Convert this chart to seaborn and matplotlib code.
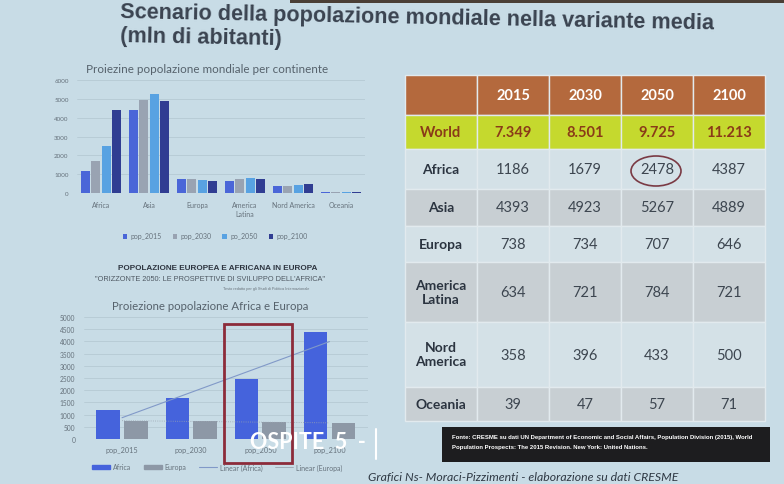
import numpy as np
import pandas as pd
import matplotlib
matplotlib.use("Agg")
import matplotlib.pyplot as plt
from matplotlib.patches import Rectangle, Ellipse, Patch
from matplotlib.lines import Line2D
import seaborn as sns

W, H = 784, 485

# dati (mln di abitanti)
anni = ["2015", "2030", "2050", "2100"]
world = ["7.349", "8.501", "9.725", "11.213"]
continenti = ["Africa", "Asia", "Europa", "America Latina", "Nord America", "Oceania"]
etichette_x = ["Africa", "Asia", "Europa", "America\nLatina", "Nord America", "Oceania"]
etichette_tab = ["Africa", "Asia", "Europa", "America\nLatina", "Nord\nAmerica", "Oceania"]
pop_2015 = [1186, 4393, 738, 634, 358, 39]
pop_2030 = [1679, 4923, 734, 721, 396, 47]
pop_2050 = [2478, 5267, 707, 784, 433, 57]
pop_2100 = [4387, 4889, 646, 721, 500, 71]
serie = ["pop_2015", "pop_2030", "po_2050", "pop_2100"]

periodi = ["pop_2015", "pop_2030", "pop_2050", "pop_2100"]
africa = [1186, 1679, 2478, 4387]
europa = [738, 734, 707, 646]


def px_box(x0, y0, x1, y1):
    return [x0 / W, 1 - y1 / H, (x1 - x0) / W, (y1 - y0) / H]


def fx(x):
    return x / W


def fy(y):
    return 1 - y / H


sns.set_theme(style="whitegrid")
plt.rcParams["font.family"] = ["Lato", "DejaVu Sans"]

BG = "#c8dce6"
GRID = "#b6cad4"
TXT = "#66727c"
ARIAL = ["Liberation Sans", "DejaVu Sans"]

fig = plt.figure(figsize=(W / 100, H / 100), dpi=100)
fig.patch.set_facecolor(BG)
fig.add_artist(Rectangle((fx(290), fy(4)), 494 / W, 4 / H, transform=fig.transFigure,
                         color="#4a3f36", lw=0))

# titolo della slide
fig.text(fx(120), fy(13), "Scenario della popolazione mondiale nella variante media",
         family=ARIAL, fontsize=15.6, fontweight="bold",
         color="#3a4350", ha="left", va="center", rotation=-1.1, rotation_mode="anchor")
fig.text(fx(120), fy(37), "(mln di abitanti)",
         family=ARIAL, fontsize=15.6, fontweight="bold",
         color="#3a4350", ha="left", va="center", rotation=-1.1, rotation_mode="anchor")

# grafico 1: popolazione per continente
df1 = pd.DataFrame({
    "continente": continenti * 4,
    "serie": np.repeat(serie, len(continenti)),
    "pop": pop_2015 + pop_2030 + pop_2050 + pop_2100,
})
ax1 = fig.add_axes(px_box(77, 81, 365, 194))
sns.barplot(data=df1, x="continente", y="pop", hue="serie",
            palette=["#4a66d8", "#99a3b2", "#58a2e2", "#303d92"],
            width=0.86, gap=0.12, saturation=1, errorbar=None, linewidth=0, ax=ax1)
ax1.set_facecolor("none")
ax1.set_ylim(0, 6000)
ax1.set_yticks(range(0, 6001, 1000))
ax1.set_xticks(range(len(continenti)))
ax1.set_xticklabels(etichette_x)
ax1.set_xlabel("")
ax1.set_ylabel("")
ax1.grid(axis="y", color=GRID, lw=0.6)
ax1.grid(axis="x", visible=False)
ax1.tick_params(axis="y", labelsize=4.5, colors=TXT, pad=6, length=0)
ax1.tick_params(axis="x", labelsize=5, colors=TXT, pad=6, length=0)
for s in ax1.spines.values():
    s.set_visible(False)
h, l = ax1.get_legend_handles_labels()
ax1.legend(h, l, loc="center", bbox_to_anchor=(fx(215), fy(237)),
           bbox_transform=fig.transFigure, ncol=4, frameon=False, fontsize=5,
           handlelength=0.7, handleheight=0.7, handletextpad=0.4, columnspacing=1.6,
           labelcolor=TXT)
fig.text(fx(207), fy(70), "Proiezine popolazione mondiale per continente",
         fontsize=8.4, color="#56626c", ha="center", va="center")

# grafico 2: Africa e Europa
fig.text(fx(218), fy(269), "POPOLAZIONE EUROPEA E AFRICANA IN EUROPA",
         family=ARIAL, fontsize=5.9, fontweight="bold",
         color="#2e3540", ha="center", va="center")
fig.text(fx(210), fy(280), "\"ORIZZONTE 2050: LE PROSPETTIVE DI SVILUPPO DELL'AFRICA\"",
         family=ARIAL, fontsize=5.3,
         color="#4e5862", ha="center", va="center")
fig.text(fx(266), fy(289), "Testo redatto per gli Studi di Politica Internazionale",
         family=ARIAL, fontsize=2.8,
         color="#6a747c", ha="center", va="center")
fig.text(fx(210), fy(307), "Proiezione popolazione Africa e Europa",
         fontsize=8.2, color="#56626c", ha="center", va="center")

df2 = pd.DataFrame({
    "periodo": periodi * 2,
    "area": ["Africa"] * 4 + ["Europa"] * 4,
    "pop": africa + europa,
})
ax2 = fig.add_axes(px_box(83.5, 318, 368, 440))
sns.barplot(data=df2, x="periodo", y="pop", hue="area",
            palette=["#4563dc", "#8d98a6"], width=0.8, gap=0.15,
            saturation=1, errorbar=None, legend=False, linewidth=0, ax=ax2)
xs = np.arange(len(periodi))
k, q = np.polyfit(xs, africa, 1)
ax2.plot(xs, k * xs + q, color="#8199c8", lw=0.8)
k, q = np.polyfit(xs, europa, 1)
ax2.plot(xs, k * xs + q, color="#9aa4b0", lw=0.6, ls=":")
ax2.set_facecolor("none")
ax2.set_ylim(0, 5000)
ax2.set_yticks(range(0, 5001, 500))
ax2.set_xlabel("")
ax2.set_ylabel("")
ax2.grid(axis="y", color=GRID, lw=0.6)
ax2.grid(axis="x", visible=False)
ax2.tick_params(axis="y", labelsize=4.8, colors=TXT, pad=6, length=0)
ax2.tick_params(axis="x", labelsize=5.2, colors=TXT, pad=5, length=0)
for s in ax2.spines.values():
    s.set_visible(False)
ax2.add_patch(Rectangle((1.475, -985), 0.985, 5700, fill=False, ec="#8c2b3a",
                        lw=2, clip_on=False, zorder=5))
handles2 = [
    Patch(color="#4563dc"), Patch(color="#8d98a6"),
    Line2D([], [], color="#8199c8", lw=0.8), Line2D([], [], color="#9aa4b0", lw=0.6),
]
ax2.legend(handles2, ["Africa", "Europa", "Linear (Africa)", "Linear (Europa)"],
           loc="center", bbox_to_anchor=(fx(217), fy(468)),
           bbox_transform=fig.transFigure, ncol=4, frameon=False, fontsize=5,
           handlelength=2.6, handleheight=0.4, handletextpad=0.4, columnspacing=1.8,
           labelcolor=TXT)

# tabella
ax3 = fig.add_axes(px_box(405, 76, 765, 422))
ax3.axis("off")
righe = [[""] + anni, ["World"] + world]
for i, nome in enumerate(etichette_tab):
    righe.append([nome, str(pop_2015[i]), str(pop_2030[i]), str(pop_2050[i]), str(pop_2100[i])])
colori = [["#b4693d"] * 5, ["#c5d92e"] * 5]
for i in range(len(etichette_tab)):
    colori.append([["#d4e1e7", "#c8cfd3"][i % 2]] * 5)
tab = ax3.table(cellText=righe, cellColours=colori, cellLoc="center", bbox=[0, 0, 1, 1])
tab.auto_set_font_size(False)
altezze = [40, 34, 40, 37, 36, 60, 65, 34]
for (r, c), cell in tab.get_celld().items():
    cell.set_height(altezze[r])
    cell.set_edgecolor("#e2eaee")
    cell.set_linewidth(1)
    t = cell.get_text()
    t.set_fontsize(10.5)
    if r == 0:
        t.set_color("white")
        t.set_fontweight("bold")
    elif r == 1:
        t.set_color("#8a3b18")
        t.set_fontweight("bold")
    elif c == 0:
        t.set_color("#2b3440")
        t.set_fontweight("bold")
        t.set_fontsize(10)
    else:
        t.set_color("#3d4650")
fig.add_artist(Ellipse((fx(656), fy(172)), 50 / W, 30 / H, transform=fig.transFigure,
                       fill=False, ec="#7a3a44", lw=1.2))

# fonte
fig.add_artist(Rectangle((fx(442), fy(463)), 328 / W, 35 / H, transform=fig.transFigure,
                         color="#1d1d1f", lw=0))
fig.text(fx(452), fy(438), "Fonte: CRESME su dati UN Department of Economic and Social Affairs, "
         "Population Division (2015), World",
         family=ARIAL, fontsize=4.3, fontweight="bold",
         color="white", ha="left", va="center")
fig.text(fx(452), fy(448), "Population Prospects: The 2015 Revision. New York: United Nations.",
         family=ARIAL, fontsize=4.3, fontweight="bold",
         color="white", ha="left", va="center")
fig.text(fx(368), fy(478), "Grafici Ns- Moraci-Pizzimenti - elaborazione su dati CRESME",
         fontsize=8.8, style="italic", color="#2f3944", ha="left", va="center")

# sovrimpressione
fig.text(fx(250), fy(443), "OSPITE  5  -", fontsize=15.5, color="white",
         ha="left", va="center", fontweight="bold")
fig.add_artist(Line2D([fx(376), fx(376)], [fy(430), fy(460)], transform=fig.transFigure,
                      color="white", lw=1.5))

fig.savefig("out.png", dpi=100, facecolor=BG)
